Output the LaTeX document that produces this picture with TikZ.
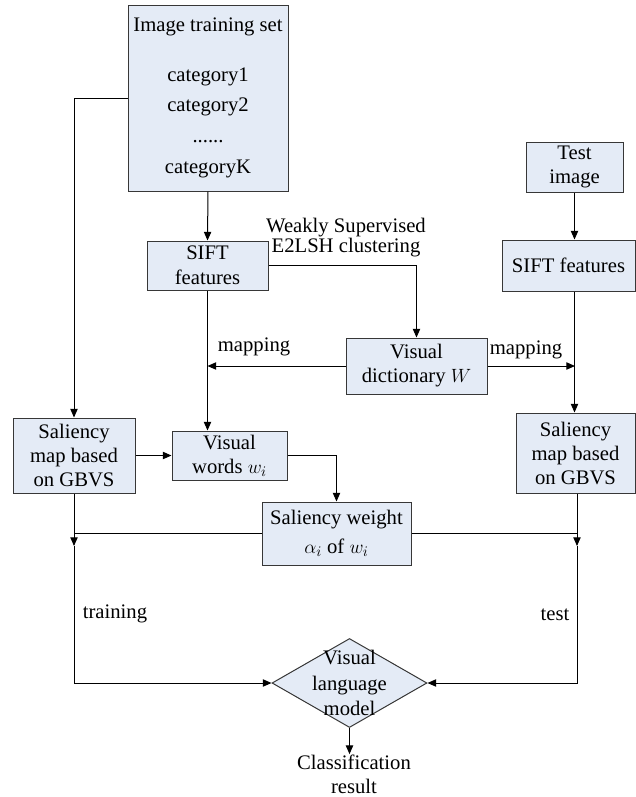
\documentclass[tikz,border=0pt]{standalone}
\usepackage{fontspec}
\setmainfont{Liberation Serif}
\usepackage{tikz}
\usetikzlibrary{arrows.meta,shapes.geometric}

\definecolor{boxfill}{RGB}{228,235,246}
\definecolor{boxline}{RGB}{55,55,55}

\begin{document}
\begin{tikzpicture}[
                x=0.75pt, y=-0.75pt,
                >={Triangle[length=6.5pt,width=5.5pt]},
                font=\fontsize{15.5}{18}\selectfont,
                line width=0.75pt,
                box/.style={draw=boxline, fill=boxfill, align=center,
                    inner sep=0pt},
                lmshape/.style={diamond, draw=boxline, fill=boxfill,
                    inner sep=0pt, minimum width=116.25pt,
                    minimum height=66.75pt},
                lbl/.style={align=center, inner sep=0pt}]
            \useasboundingbox (0,0) rectangle (636,797);

            % boxes
            \node[box, minimum width=120pt, minimum height=139.5pt]
                (train) at (208,98) {Image training set\\[19pt]
                    category1\\[5pt] category2\\[5pt] ......\\[5pt] categoryK};
            \node[box, minimum width=90.75pt, minimum height=36.75pt]
                (siftL) at (207.5,265.5) {SIFT\\[1pt] features};
            \node[box, minimum width=72.75pt, minimum height=37.5pt]
                (test) at (574.5,167) {Test\\ image};
            \node[box, minimum width=99.75pt, minimum height=38.25pt]
                (siftR) at (568.5,265.5) {SIFT features};
            \node[box, minimum width=105.75pt, minimum height=42pt]
                (dict) at (416.5,366) {Visual\\ dictionary $W$};
            \node[box, minimum width=91.5pt, minimum height=56.25pt]
                (salL) at (74,455.5) {Saliency\\ map based\\ on GBVS};
            \node[box, minimum width=86.25pt, minimum height=36.75pt]
                (words) at (229.5,455.5) {Visual\\ words $w_i$};
            \node[box, minimum width=89.25pt, minimum height=60pt]
                (salR) at (575.5,453) {Saliency\\ map based\\ on GBVS};
            \node[box, minimum width=111.75pt, minimum height=47.25pt]
                (weight) at (336.5,533.5) {Saliency weight\\[4pt] $\alpha_i$ of $w_i$};
            \node[lmshape, label={[lbl, font=\fontsize{15.5}{19}\selectfont]
                center:Visual\\ language\\ model}] (lm) at (349.5,683) {};
            \node[lbl] (result) at (354,774) {Classification\\ result};

            % labels
            \node[lbl, font=\fontsize{15.5}{15}\selectfont]
                (weak) at (346,238) {Weakly Supervised\\ E2LSH clustering};
            \node[lbl] (mapL) at (254,347) {mapping};
            \node[lbl] (mapR) at (526,350) {mapping};
            \node[lbl] (trainlbl) at (115,614) {training};
            \node[lbl] (testlbl) at (555,615) {test};

            \coordinate (trainA) at (74,546);
            \coordinate (testA) at (577,546);

            % connectors
            \draw[->] (train.west) -| (salL.north);
            \draw[->] (train.south) -- (siftL.north);
            \draw[->] (siftL.east) -| (dict.north);
            \draw[->] (siftL.south) -- (siftL.south |- words.north);
            \draw[->] (dict.west) -- (siftL.south |- dict.west);
            \draw[->] (dict.east) -- (575,366);
            \draw[->] (test.south) -- (test.south |- siftR.north);
            \draw[->] (test.south |- siftR.south) -- (test.south |- salR.north);
            \draw[->] (salL.east) -- (words.west);
            \draw[->] (words.east) -| (weight.north);
            \draw (weight.west) -- (trainA |- weight.west);
            \draw (weight.east) -- (testA |- weight.east);
            \draw[->] (salL.south) -- (trainA);
            \draw[->] (trainA) |- (lm.west);
            \draw[->] (testA |- salR.south) -- (testA);
            \draw[->] (testA) |- (lm.east);
            \draw[->] (lm.south) -- (lm.south |- result.north);
        \end{tikzpicture}
\end{document}
